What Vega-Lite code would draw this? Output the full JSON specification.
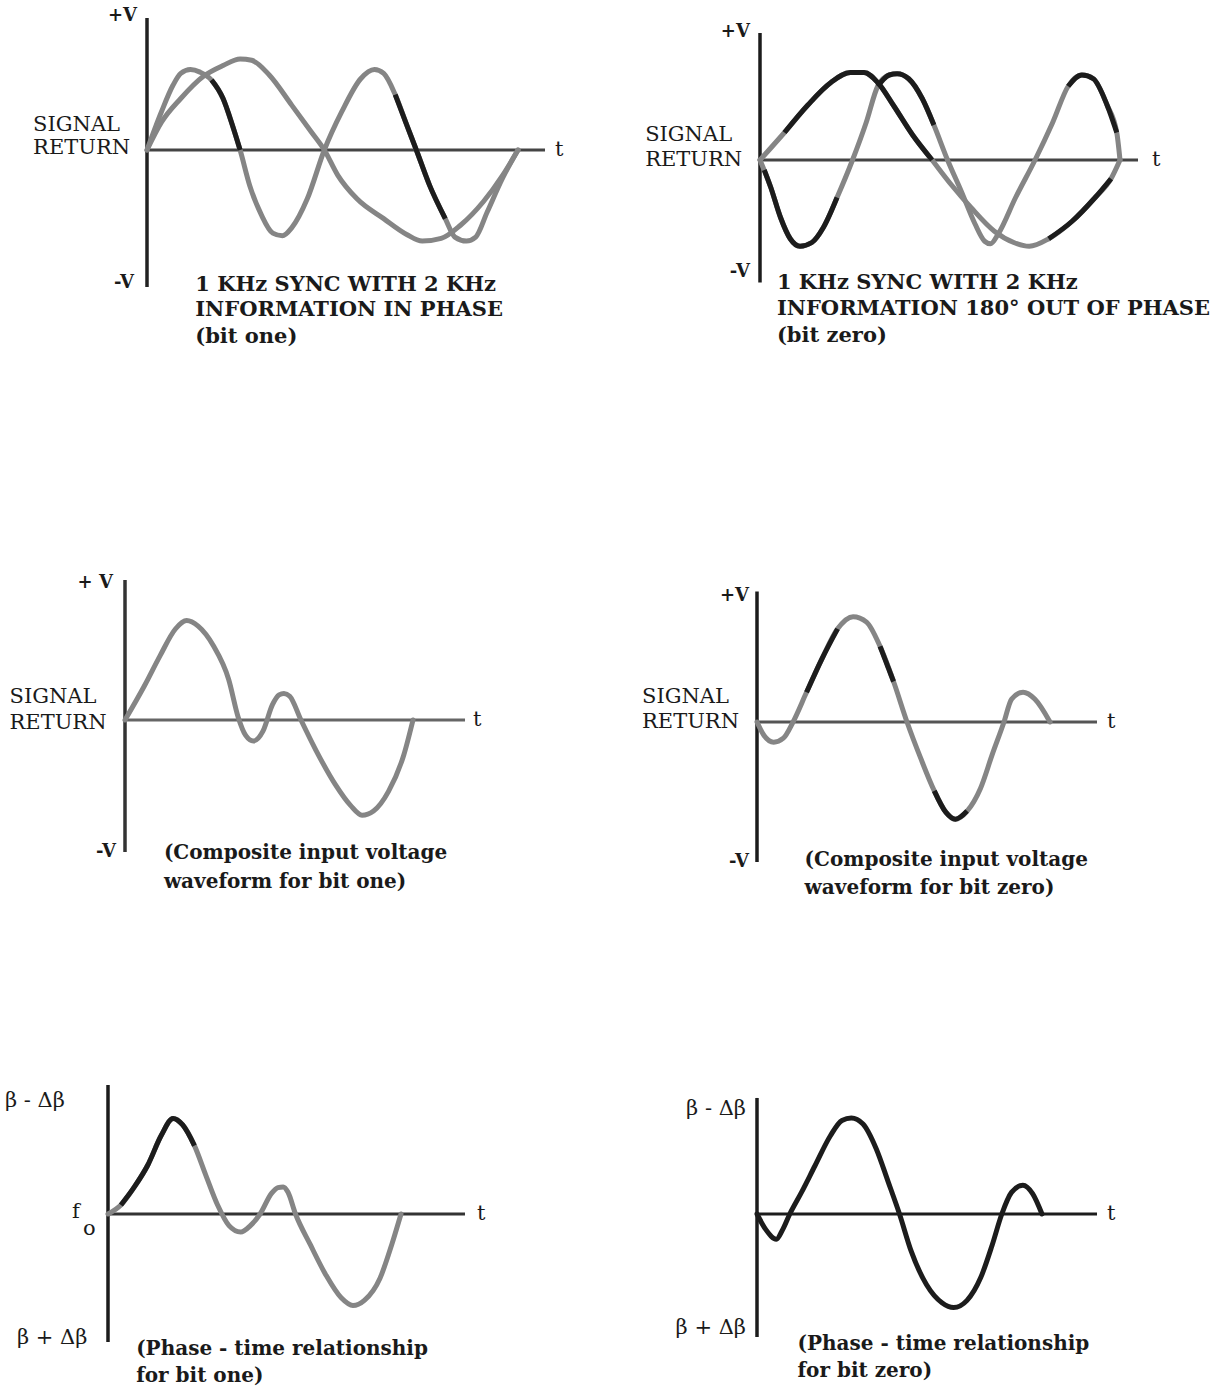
{
  "$schema": "https://vega.github.io/schema/vega-lite/v6.json",
  "padding": 0,
  "background": "white",
  "spacing": 0,
  "config": {"view": {"stroke": null}, "text": {"font": "DejaVu Serif", "color": "#1a1a1a"}},
  "datasets": {
    "c1": [
      {"s":"a","k":"g","t":0,"v":0},{"s":"a","k":"g","t":0.039,"v":0.29},{"s":"a","k":"g","t":0.070,"v":0.49},{"s":"a","k":"g","t":0.091,"v":0.58},{"s":"a","k":"g","t":0.117,"v":0.61},{"s":"a","k":"g","t":0.143,"v":0.59},{"s":"a","k":"g","t":0.174,"v":0.53},{"s":"a","k":"g","t":0.205,"v":0.39},{"s":"a","k":"g","t":0.230,"v":0.19},{"s":"a","k":"g","t":0.251,"v":0},{"s":"a","k":"g","t":0.277,"v":-0.27},{"s":"a","k":"g","t":0.308,"v":-0.49},{"s":"a","k":"g","t":0.339,"v":-0.63},{"s":"a","k":"g","t":0.365,"v":-0.65},{"s":"a","k":"g","t":0.390,"v":-0.59},{"s":"a","k":"g","t":0.432,"v":-0.37},{"s":"a","k":"g","t":0.478,"v":0},{"s":"a","k":"g","t":0.525,"v":0.29},{"s":"a","k":"g","t":0.576,"v":0.54},{"s":"a","k":"g","t":0.613,"v":0.61},{"s":"a","k":"g","t":0.638,"v":0.58},{"s":"a","k":"g","t":0.669,"v":0.42},{"s":"a","k":"g","t":0.700,"v":0.19},{"s":"a","k":"g","t":0.726,"v":0},{"s":"a","k":"g","t":0.762,"v":-0.27},{"s":"a","k":"g","t":0.804,"v":-0.52},{"s":"a","k":"g","t":0.830,"v":-0.66},{"s":"a","k":"g","t":0.861,"v":-0.69},{"s":"a","k":"g","t":0.886,"v":-0.66},{"s":"a","k":"g","t":0.917,"v":-0.47},{"s":"a","k":"g","t":0.959,"v":-0.21},{"s":"a","k":"g","t":1.0,"v":0},
      {"s":"b","k":"g","t":0,"v":0},{"s":"b","k":"g","t":0.039,"v":0.21},{"s":"b","k":"g","t":0.091,"v":0.39},{"s":"b","k":"g","t":0.153,"v":0.56},{"s":"b","k":"g","t":0.205,"v":0.64},{"s":"b","k":"g","t":0.251,"v":0.69},{"s":"b","k":"g","t":0.282,"v":0.68},{"s":"b","k":"g","t":0.329,"v":0.57},{"s":"b","k":"g","t":0.390,"v":0.34},{"s":"b","k":"g","t":0.442,"v":0.14},{"s":"b","k":"g","t":0.478,"v":0},{"s":"b","k":"g","t":0.514,"v":-0.19},{"s":"b","k":"g","t":0.566,"v":-0.37},{"s":"b","k":"g","t":0.638,"v":-0.52},{"s":"b","k":"g","t":0.700,"v":-0.64},{"s":"b","k":"g","t":0.742,"v":-0.69},{"s":"b","k":"g","t":0.793,"v":-0.67},{"s":"b","k":"g","t":0.845,"v":-0.57},{"s":"b","k":"g","t":0.907,"v":-0.39},{"s":"b","k":"g","t":0.959,"v":-0.19},{"s":"b","k":"g","t":1.0,"v":0},
      {"s":"a2","k":"b","t":0.174,"v":0.53},{"s":"a2","k":"b","t":0.205,"v":0.39},{"s":"a2","k":"b","t":0.230,"v":0.19},{"s":"a2","k":"b","t":0.251,"v":0},
      {"s":"a4","k":"b","t":0.669,"v":0.42},{"s":"a4","k":"b","t":0.700,"v":0.19},{"s":"a4","k":"b","t":0.726,"v":0},{"s":"a4","k":"b","t":0.762,"v":-0.27},{"s":"a4","k":"b","t":0.804,"v":-0.52}
    ],
    "c2": [
      {"s":"c","k":"g","t":0,"v":0},{"s":"c","k":"g","t":0.030,"v":-0.22},{"s":"c","k":"g","t":0.057,"v":-0.46},{"s":"c","k":"g","t":0.084,"v":-0.63},{"s":"c","k":"g","t":0.111,"v":-0.69},{"s":"c","k":"g","t":0.144,"v":-0.66},{"s":"c","k":"g","t":0.176,"v":-0.54},{"s":"c","k":"g","t":0.214,"v":-0.30},{"s":"c","k":"g","t":0.257,"v":0},{"s":"c","k":"g","t":0.295,"v":0.30},{"s":"c","k":"g","t":0.327,"v":0.59},{"s":"c","k":"g","t":0.359,"v":0.68},{"s":"c","k":"g","t":0.381,"v":0.69},{"s":"c","k":"g","t":0.413,"v":0.65},{"s":"c","k":"g","t":0.451,"v":0.49},{"s":"c","k":"g","t":0.483,"v":0.28},{"s":"c","k":"g","t":0.521,"v":0},{"s":"c","k":"g","t":0.559,"v":-0.25},{"s":"c","k":"g","t":0.597,"v":-0.51},{"s":"c","k":"g","t":0.624,"v":-0.65},{"s":"c","k":"g","t":0.640,"v":-0.67},{"s":"c","k":"g","t":0.662,"v":-0.59},{"s":"c","k":"g","t":0.710,"v":-0.30},{"s":"c","k":"g","t":0.764,"v":0},{"s":"c","k":"g","t":0.813,"v":0.30},{"s":"c","k":"g","t":0.856,"v":0.59},{"s":"c","k":"g","t":0.894,"v":0.68},{"s":"c","k":"g","t":0.926,"v":0.65},{"s":"c","k":"g","t":0.964,"v":0.44},{"s":"c","k":"g","t":0.991,"v":0.22},{"s":"c","k":"g","t":1.0,"v":0},
      {"s":"d","k":"g","t":0,"v":0},{"s":"d","k":"g","t":0.068,"v":0.22},{"s":"d","k":"g","t":0.133,"v":0.44},{"s":"d","k":"g","t":0.197,"v":0.62},{"s":"d","k":"g","t":0.251,"v":0.70},{"s":"d","k":"g","t":0.289,"v":0.70},{"s":"d","k":"g","t":0.327,"v":0.62},{"s":"d","k":"g","t":0.370,"v":0.44},{"s":"d","k":"g","t":0.424,"v":0.20},{"s":"d","k":"g","t":0.478,"v":0},{"s":"d","k":"g","t":0.532,"v":-0.20},{"s":"d","k":"g","t":0.586,"v":-0.38},{"s":"d","k":"g","t":0.651,"v":-0.57},{"s":"d","k":"g","t":0.705,"v":-0.66},{"s":"d","k":"g","t":0.748,"v":-0.69},{"s":"d","k":"g","t":0.802,"v":-0.63},{"s":"d","k":"g","t":0.867,"v":-0.49},{"s":"d","k":"g","t":0.931,"v":-0.30},{"s":"d","k":"g","t":0.975,"v":-0.15},{"s":"d","k":"g","t":1.0,"v":0},
      {"s":"c1","k":"b","t":0.012,"v":-0.08},{"s":"c1","k":"b","t":0.030,"v":-0.22},{"s":"c1","k":"b","t":0.057,"v":-0.46},{"s":"c1","k":"b","t":0.084,"v":-0.63},{"s":"c1","k":"b","t":0.111,"v":-0.69},{"s":"c1","k":"b","t":0.144,"v":-0.66},{"s":"c1","k":"b","t":0.176,"v":-0.54},{"s":"c1","k":"b","t":0.214,"v":-0.30},
      {"s":"c3","k":"b","t":0.327,"v":0.59},{"s":"c3","k":"b","t":0.359,"v":0.68},{"s":"c3","k":"b","t":0.381,"v":0.69},{"s":"c3","k":"b","t":0.413,"v":0.65},{"s":"c3","k":"b","t":0.451,"v":0.49},{"s":"c3","k":"b","t":0.483,"v":0.28},
      {"s":"c5","k":"b","t":0.856,"v":0.59},{"s":"c5","k":"b","t":0.894,"v":0.68},{"s":"c5","k":"b","t":0.926,"v":0.65},{"s":"c5","k":"b","t":0.964,"v":0.44},{"s":"c5","k":"b","t":0.991,"v":0.22},
      {"s":"d2","k":"b","t":0.068,"v":0.22},{"s":"d2","k":"b","t":0.133,"v":0.44},{"s":"d2","k":"b","t":0.197,"v":0.62},{"s":"d2","k":"b","t":0.251,"v":0.70},{"s":"d2","k":"b","t":0.289,"v":0.70},{"s":"d2","k":"b","t":0.327,"v":0.62},{"s":"d2","k":"b","t":0.370,"v":0.44},{"s":"d2","k":"b","t":0.424,"v":0.20},{"s":"d2","k":"b","t":0.478,"v":0},
      {"s":"d4","k":"b","t":0.802,"v":-0.63},{"s":"d4","k":"b","t":0.867,"v":-0.49},{"s":"d4","k":"b","t":0.931,"v":-0.30},{"s":"d4","k":"b","t":0.975,"v":-0.15}
    ],
    "c3": [
      {"s":"e","k":"g","t":0,"v":0},{"s":"e","k":"g","t":0.069,"v":0.25},{"s":"e","k":"g","t":0.122,"v":0.46},{"s":"e","k":"g","t":0.175,"v":0.65},{"s":"e","k":"g","t":0.214,"v":0.71},{"s":"e","k":"g","t":0.254,"v":0.67},{"s":"e","k":"g","t":0.307,"v":0.53},{"s":"e","k":"g","t":0.360,"v":0.29},{"s":"e","k":"g","t":0.393,"v":0.02},{"s":"e","k":"g","t":0.419,"v":-0.11},{"s":"e","k":"g","t":0.446,"v":-0.15},{"s":"e","k":"g","t":0.479,"v":-0.08},{"s":"e","k":"g","t":0.512,"v":0.11},{"s":"e","k":"g","t":0.535,"v":0.18},{"s":"e","k":"g","t":0.552,"v":0.19},{"s":"e","k":"g","t":0.572,"v":0.17},{"s":"e","k":"g","t":0.611,"v":0},{"s":"e","k":"g","t":0.664,"v":-0.22},{"s":"e","k":"g","t":0.730,"v":-0.46},{"s":"e","k":"g","t":0.783,"v":-0.61},{"s":"e","k":"g","t":0.823,"v":-0.68},{"s":"e","k":"g","t":0.863,"v":-0.65},{"s":"e","k":"g","t":0.915,"v":-0.51},{"s":"e","k":"g","t":0.968,"v":-0.25},{"s":"e","k":"g","t":1.0,"v":0}
    ],
    "c4": [
      {"s":"f","k":"g","t":0,"v":0},{"s":"f","k":"g","t":0.024,"v":-0.10},{"s":"f","k":"g","t":0.057,"v":-0.15},{"s":"f","k":"g","t":0.090,"v":-0.12},{"s":"f","k":"g","t":0.123,"v":0},{"s":"f","k":"g","t":0.169,"v":0.22},{"s":"f","k":"g","t":0.222,"v":0.47},{"s":"f","k":"g","t":0.275,"v":0.69},{"s":"f","k":"g","t":0.328,"v":0.78},{"s":"f","k":"g","t":0.374,"v":0.74},{"s":"f","k":"g","t":0.420,"v":0.56},{"s":"f","k":"g","t":0.466,"v":0.30},{"s":"f","k":"g","t":0.512,"v":0},{"s":"f","k":"g","t":0.559,"v":-0.27},{"s":"f","k":"g","t":0.605,"v":-0.51},{"s":"f","k":"g","t":0.645,"v":-0.67},{"s":"f","k":"g","t":0.677,"v":-0.72},{"s":"f","k":"g","t":0.717,"v":-0.66},{"s":"f","k":"g","t":0.763,"v":-0.49},{"s":"f","k":"g","t":0.803,"v":-0.24},{"s":"f","k":"g","t":0.843,"v":0},{"s":"f","k":"g","t":0.869,"v":0.17},{"s":"f","k":"g","t":0.908,"v":0.22},{"s":"f","k":"g","t":0.948,"v":0.17},{"s":"f","k":"g","t":1.0,"v":0},
      {"s":"f2","k":"b","t":0.169,"v":0.22},{"s":"f2","k":"b","t":0.222,"v":0.47},{"s":"f2","k":"b","t":0.275,"v":0.69},
      {"s":"f4","k":"b","t":0.420,"v":0.56},{"s":"f4","k":"b","t":0.466,"v":0.30},
      {"s":"f6","k":"b","t":0.605,"v":-0.51},{"s":"f6","k":"b","t":0.645,"v":-0.67},{"s":"f6","k":"b","t":0.677,"v":-0.72},{"s":"f6","k":"b","t":0.717,"v":-0.66}
    ],
    "c5": [
      {"s":"g","k":"g","t":0,"v":0},{"s":"g","k":"g","t":0.044,"v":0.07},{"s":"g","k":"g","t":0.090,"v":0.21},{"s":"g","k":"g","t":0.136,"v":0.38},{"s":"g","k":"g","t":0.182,"v":0.61},{"s":"g","k":"g","t":0.222,"v":0.74},{"s":"g","k":"g","t":0.255,"v":0.69},{"s":"g","k":"g","t":0.295,"v":0.53},{"s":"g","k":"g","t":0.334,"v":0.30},{"s":"g","k":"g","t":0.374,"v":0.07},{"s":"g","k":"g","t":0.413,"v":-0.09},{"s":"g","k":"g","t":0.453,"v":-0.14},{"s":"g","k":"g","t":0.486,"v":-0.09},{"s":"g","k":"g","t":0.519,"v":0},{"s":"g","k":"g","t":0.558,"v":0.16},{"s":"g","k":"g","t":0.580,"v":0.205},{"s":"g","k":"g","t":0.598,"v":0.21},{"s":"g","k":"g","t":0.614,"v":0.17},{"s":"g","k":"g","t":0.640,"v":0},{"s":"g","k":"g","t":0.691,"v":-0.24},{"s":"g","k":"g","t":0.743,"v":-0.47},{"s":"g","k":"g","t":0.796,"v":-0.65},{"s":"g","k":"g","t":0.836,"v":-0.71},{"s":"g","k":"g","t":0.875,"v":-0.67},{"s":"g","k":"g","t":0.928,"v":-0.50},{"s":"g","k":"g","t":0.968,"v":-0.24},{"s":"g","k":"g","t":1.0,"v":0},
      {"s":"g2","k":"b","t":0.044,"v":0.07},{"s":"g2","k":"b","t":0.090,"v":0.21},{"s":"g2","k":"b","t":0.136,"v":0.38},{"s":"g2","k":"b","t":0.182,"v":0.61},{"s":"g2","k":"b","t":0.222,"v":0.74},{"s":"g2","k":"b","t":0.255,"v":0.69},{"s":"g2","k":"b","t":0.295,"v":0.53}
    ],
    "c6": [
      {"s":"h","k":"b","t":0,"v":0},{"s":"h","k":"b","t":0.031,"v":-0.13},{"s":"h","k":"b","t":0.068,"v":-0.21},{"s":"h","k":"b","t":0.090,"v":-0.13},{"s":"h","k":"b","t":0.115,"v":0},{"s":"h","k":"b","t":0.156,"v":0.18},{"s":"h","k":"b","t":0.203,"v":0.40},{"s":"h","k":"b","t":0.257,"v":0.65},{"s":"h","k":"b","t":0.298,"v":0.78},{"s":"h","k":"b","t":0.331,"v":0.80},{"s":"h","k":"b","t":0.372,"v":0.75},{"s":"h","k":"b","t":0.419,"v":0.54},{"s":"h","k":"b","t":0.460,"v":0.27},{"s":"h","k":"b","t":0.500,"v":0},{"s":"h","k":"b","t":0.541,"v":-0.31},{"s":"h","k":"b","t":0.595,"v":-0.59},{"s":"h","k":"b","t":0.649,"v":-0.74},{"s":"h","k":"b","t":0.690,"v":-0.78},{"s":"h","k":"b","t":0.737,"v":-0.72},{"s":"h","k":"b","t":0.785,"v":-0.53},{"s":"h","k":"b","t":0.825,"v":-0.26},{"s":"h","k":"b","t":0.859,"v":0},{"s":"h","k":"b","t":0.893,"v":0.18},{"s":"h","k":"b","t":0.933,"v":0.24},{"s":"h","k":"b","t":0.967,"v":0.17},{"s":"h","k":"b","t":1.0,"v":0}
    ]
  },
  "vconcat": [
    {
      "spacing": 0, "bounds": "flush",
      "hconcat": [
        {
          "width": 615, "height": 465,
          "encoding": {
            "x": {"field": "t", "type": "quantitative", "scale": {"domain": [-0.39623, 1.26146], "nice": false, "zero": false}, "axis": null},
            "y": {"field": "v", "type": "quantitative", "scale": {"domain": [-2.38636, 1.13636], "nice": false, "zero": false}, "axis": null}
          },
          "layer": [
            {"data": {"values": [{"t": 0, "v": 1.0, "v2": -1.038}]}, "mark": {"type": "rule", "color": "#222", "strokeWidth": 3.5}, "encoding": {"y2": {"field": "v2"}}},
            {"data": {"values": [{"t": 0, "t2": 1.0728, "v": 0}]}, "mark": {"type": "rule", "color": "#444", "strokeWidth": 3}, "encoding": {"x2": {"field": "t2"}}},
            {"data": {"name": "c1"}, "transform": [{"filter": "datum.k === 'g'"}], "mark": {"type": "line", "color": "#858585", "strokeWidth": 5, "interpolate": "monotone", "strokeCap": "round"}, "encoding": {"detail": {"field": "s"}}},
            {"data": {"name": "c1"}, "transform": [{"filter": "datum.k === 'b'"}], "mark": {"type": "line", "color": "#1c1c1c", "strokeWidth": 5, "interpolate": "monotone", "strokeCap": "butt"}, "encoding": {"detail": {"field": "s"}}},
            {"data": {"values": [{"t": -0.027, "v": 1.015, "l": "+V"}, {"t": -0.035, "v": -1.01, "l": "-V"}]}, "mark": {"type": "text", "align": "right", "baseline": "middle", "fontSize": 18, "fontWeight": "bold"}, "encoding": {"text": {"field": "l"}}},
            {"data": {"values": [{"t": -0.307, "v": 0.19, "l": "SIGNAL"}, {"t": -0.307, "v": 0.015, "l": "RETURN"}, {"t": 1.10, "v": 0, "l": "t"}]}, "mark": {"type": "text", "align": "left", "baseline": "middle", "fontSize": 21}, "encoding": {"text": {"field": "l"}}},
            {"data": {"values": [{"t": 0.13, "v": -1.02, "l": "1 KHz SYNC WITH 2 KHz"}, {"t": 0.13, "v": -1.21, "l": "INFORMATION IN PHASE"}, {"t": 0.13, "v": -1.42, "l": "(bit one)"}]}, "mark": {"type": "text", "align": "left", "baseline": "middle", "fontSize": 21, "fontWeight": "bold"}, "encoding": {"text": {"field": "l"}}}
          ]
        },
        {
          "width": 616, "height": 465,
          "encoding": {
            "x": {"field": "t", "type": "quantitative", "scale": {"domain": [-0.40278, 1.30833], "nice": false, "zero": false}, "axis": null},
            "y": {"field": "v", "type": "quantitative", "scale": {"domain": [-2.44, 1.28], "nice": false, "zero": false}, "axis": null}
          },
          "layer": [
            {"data": {"values": [{"t": 0, "v": 1.016, "v2": -0.98}]}, "mark": {"type": "rule", "color": "#1c1c1c", "strokeWidth": 3.5}, "encoding": {"y2": {"field": "v2"}}},
            {"data": {"values": [{"t": 0, "t2": 1.05, "v": 0}]}, "mark": {"type": "rule", "color": "#444", "strokeWidth": 3}, "encoding": {"x2": {"field": "t2"}}},
            {"data": {"name": "c2"}, "transform": [{"filter": "datum.k === 'g'"}], "mark": {"type": "line", "color": "#858585", "strokeWidth": 5, "interpolate": "monotone", "strokeCap": "round"}, "encoding": {"detail": {"field": "s"}}},
            {"data": {"name": "c2"}, "transform": [{"filter": "datum.k === 'b'"}], "mark": {"type": "line", "color": "#1c1c1c", "strokeWidth": 5, "interpolate": "monotone", "strokeCap": "butt"}, "encoding": {"detail": {"field": "s"}}},
            {"data": {"values": [{"t": -0.028, "v": 1.024, "l": "+V"}, {"t": -0.028, "v": -0.896, "l": "-V"}]}, "mark": {"type": "text", "align": "right", "baseline": "middle", "fontSize": 18, "fontWeight": "bold"}, "encoding": {"text": {"field": "l"}}},
            {"data": {"values": [{"t": -0.319, "v": 0.204, "l": "SIGNAL"}, {"t": -0.319, "v": 0.004, "l": "RETURN"}, {"t": 1.089, "v": 0, "l": "t"}]}, "mark": {"type": "text", "align": "left", "baseline": "middle", "fontSize": 21}, "encoding": {"text": {"field": "l"}}},
            {"data": {"values": [{"t": 0.047, "v": -0.984, "l": "1 KHz SYNC WITH 2 KHz"}, {"t": 0.047, "v": -1.188, "l": "INFORMATION 180° OUT OF PHASE"}, {"t": 0.047, "v": -1.408, "l": "(bit zero)"}]}, "mark": {"type": "text", "align": "left", "baseline": "middle", "fontSize": 21, "fontWeight": "bold"}, "encoding": {"text": {"field": "l"}}}
          ]
        }
      ]
    },
    {
      "spacing": 0, "bounds": "flush",
      "hconcat": [
        {
          "width": 615, "height": 465,
          "encoding": {
            "x": {"field": "t", "type": "quantitative", "scale": {"domain": [-0.43403, 1.70139], "nice": false, "zero": false}, "axis": null},
            "y": {"field": "v", "type": "quantitative", "scale": {"domain": [-1.5, 1.82143], "nice": false, "zero": false}, "axis": null}
          },
          "layer": [
            {"data": {"values": [{"t": 0, "v": 1.0, "v2": -0.943}]}, "mark": {"type": "rule", "color": "#333", "strokeWidth": 3.5}, "encoding": {"y2": {"field": "v2"}}},
            {"data": {"values": [{"t": 0, "t2": 1.1806, "v": 0}]}, "mark": {"type": "rule", "color": "#666", "strokeWidth": 3}, "encoding": {"x2": {"field": "t2"}}},
            {"data": {"name": "c3"}, "mark": {"type": "line", "color": "#858585", "strokeWidth": 5, "interpolate": "monotone", "strokeCap": "round"}, "encoding": {"detail": {"field": "s"}}},
            {"data": {"values": [{"t": -0.042, "v": 0.979, "l": "+ V"}, {"t": -0.031, "v": -0.943, "l": "-V"}]}, "mark": {"type": "text", "align": "right", "baseline": "middle", "fontSize": 18, "fontWeight": "bold"}, "encoding": {"text": {"field": "l"}}},
            {"data": {"values": [{"t": -0.401, "v": 0.164, "l": "SIGNAL"}, {"t": -0.401, "v": -0.018, "l": "RETURN"}, {"t": 1.208, "v": 0, "l": "t"}]}, "mark": {"type": "text", "align": "left", "baseline": "middle", "fontSize": 21}, "encoding": {"text": {"field": "l"}}},
            {"data": {"values": [{"t": 0.135, "v": -0.95, "l": "(Composite input voltage"}, {"t": 0.135, "v": -1.157, "l": "waveform for bit one)"}]}, "mark": {"type": "text", "align": "left", "baseline": "middle", "fontSize": 20, "fontWeight": "bold"}, "encoding": {"text": {"field": "l"}}}
          ]
        },
        {
          "width": 616, "height": 465,
          "encoding": {
            "x": {"field": "t", "type": "quantitative", "scale": {"domain": [-0.48464, 1.61775], "nice": false, "zero": false}, "axis": null},
            "y": {"field": "v", "type": "quantitative", "scale": {"domain": [-1.5407, 1.9037], "nice": false, "zero": false}, "axis": null}
          },
          "layer": [
            {"data": {"values": [{"t": 0, "v": 0.967, "v2": -1.037}]}, "mark": {"type": "rule", "color": "#1c1c1c", "strokeWidth": 3.5}, "encoding": {"y2": {"field": "v2"}}},
            {"data": {"values": [{"t": 0, "t2": 1.1604, "v": 0}]}, "mark": {"type": "rule", "color": "#555", "strokeWidth": 3}, "encoding": {"x2": {"field": "t2"}}},
            {"data": {"name": "c4"}, "transform": [{"filter": "datum.k === 'g'"}], "mark": {"type": "line", "color": "#858585", "strokeWidth": 5, "interpolate": "monotone", "strokeCap": "round"}, "encoding": {"detail": {"field": "s"}}},
            {"data": {"name": "c4"}, "transform": [{"filter": "datum.k === 'b'"}], "mark": {"type": "line", "color": "#1c1c1c", "strokeWidth": 5, "interpolate": "monotone", "strokeCap": "butt"}, "encoding": {"detail": {"field": "s"}}},
            {"data": {"values": [{"t": -0.027, "v": 0.933, "l": "+V"}, {"t": -0.027, "v": -1.037, "l": "-V"}]}, "mark": {"type": "text", "align": "right", "baseline": "middle", "fontSize": 18, "fontWeight": "bold"}, "encoding": {"text": {"field": "l"}}},
            {"data": {"values": [{"t": -0.3925, "v": 0.185, "l": "SIGNAL"}, {"t": -0.3925, "v": 0.0, "l": "RETURN"}, {"t": 1.1945, "v": 0, "l": "t"}]}, "mark": {"type": "text", "align": "left", "baseline": "middle", "fontSize": 21}, "encoding": {"text": {"field": "l"}}},
            {"data": {"values": [{"t": 0.1625, "v": -1.022, "l": "(Composite input voltage"}, {"t": 0.1625, "v": -1.226, "l": "waveform for bit zero)"}]}, "mark": {"type": "text", "align": "left", "baseline": "middle", "fontSize": 20, "fontWeight": "bold"}, "encoding": {"text": {"field": "l"}}}
          ]
        }
      ]
    },
    {
      "spacing": 0, "bounds": "flush",
      "hconcat": [
        {
          "width": 615, "height": 463,
          "encoding": {
            "x": {"field": "t", "type": "quantitative", "scale": {"domain": [-0.3686, 1.73038], "nice": false, "zero": false}, "axis": null},
            "y": {"field": "v", "type": "quantitative", "scale": {"domain": [-1.3876, 2.20155], "nice": false, "zero": false}, "axis": null}
          },
          "layer": [
            {"data": {"values": [{"t": 0, "v": 1.0, "v2": -0.992}]}, "mark": {"type": "rule", "color": "#1c1c1c", "strokeWidth": 3.5}, "encoding": {"y2": {"field": "v2"}}},
            {"data": {"values": [{"t": 0, "t2": 1.2184, "v": 0}]}, "mark": {"type": "rule", "color": "#333", "strokeWidth": 3}, "encoding": {"x2": {"field": "t2"}}},
            {"data": {"name": "c5"}, "transform": [{"filter": "datum.k === 'g'"}], "mark": {"type": "line", "color": "#858585", "strokeWidth": 5, "interpolate": "monotone", "strokeCap": "round"}, "encoding": {"detail": {"field": "s"}}},
            {"data": {"name": "c5"}, "transform": [{"filter": "datum.k === 'b'"}], "mark": {"type": "line", "color": "#1c1c1c", "strokeWidth": 5, "interpolate": "monotone", "strokeCap": "butt"}, "encoding": {"detail": {"field": "s"}}},
            {"data": {"values": [{"t": -0.3515, "v": 0.876, "l": "β - Δβ"}, {"t": -0.3106, "v": -0.96, "l": "β + Δβ"}, {"t": -0.123, "v": 0.016, "l": "f"}, {"t": -0.0853, "v": -0.116, "l": "o"}, {"t": 1.259, "v": 0, "l": "t"}]}, "mark": {"type": "text", "align": "left", "baseline": "middle", "fontSize": 21}, "encoding": {"text": {"field": "l"}}},
            {"data": {"values": [{"t": 0.096, "v": -1.046, "l": "(Phase - time relationship"}, {"t": 0.096, "v": -1.256, "l": "for bit one)"}]}, "mark": {"type": "text", "align": "left", "baseline": "middle", "fontSize": 20, "fontWeight": "bold"}, "encoding": {"text": {"field": "l"}}}
          ]
        },
        {
          "width": 616, "height": 463,
          "encoding": {
            "x": {"field": "t", "type": "quantitative", "scale": {"domain": [-0.49825, 1.66316], "nice": false, "zero": false}, "axis": null},
            "y": {"field": "v", "type": "quantitative", "scale": {"domain": [-1.49167, 2.36667], "nice": false, "zero": false}, "axis": null}
          },
          "layer": [
            {"data": {"values": [{"t": 0, "v": 0.967, "v2": -1.025}]}, "mark": {"type": "rule", "color": "#1c1c1c", "strokeWidth": 3.5}, "encoding": {"y2": {"field": "v2"}}},
            {"data": {"values": [{"t": 0, "t2": 1.193, "v": 0}]}, "mark": {"type": "rule", "color": "#1c1c1c", "strokeWidth": 3}, "encoding": {"x2": {"field": "t2"}}},
            {"data": {"name": "c6"}, "mark": {"type": "line", "color": "#1c1c1c", "strokeWidth": 5, "interpolate": "monotone", "strokeCap": "round"}, "encoding": {"detail": {"field": "s"}}},
            {"data": {"values": [{"t": -0.0386, "v": 0.875, "l": "β - Δβ"}, {"t": -0.0386, "v": -0.95, "l": "β + Δβ"}]}, "mark": {"type": "text", "align": "right", "baseline": "middle", "fontSize": 21}, "encoding": {"text": {"field": "l"}}},
            {"data": {"values": [{"t": 1.228, "v": 0, "l": "t"}]}, "mark": {"type": "text", "align": "left", "baseline": "middle", "fontSize": 21}, "encoding": {"text": {"field": "l"}}},
            {"data": {"values": [{"t": 0.142, "v": -1.083, "l": "(Phase - time relationship"}, {"t": 0.142, "v": -1.308, "l": "for bit zero)"}]}, "mark": {"type": "text", "align": "left", "baseline": "middle", "fontSize": 20, "fontWeight": "bold"}, "encoding": {"text": {"field": "l"}}}
          ]
        }
      ]
    }
  ]
}
